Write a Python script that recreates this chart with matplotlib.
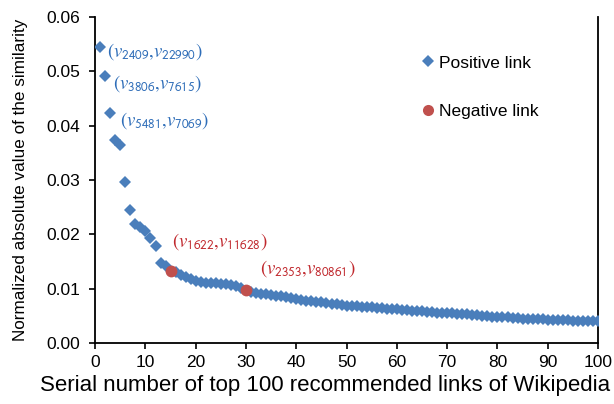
import matplotlib
matplotlib.use("Agg")
import matplotlib.pyplot as plt
from matplotlib.lines import Line2D

plt.rcParams['font.family'] = ['Liberation Sans', 'DejaVu Sans']
plt.rcParams['mathtext.fontset'] = 'stix'

# normalized absolute similarity of the top 100 recommended links
ranks = list(range(1, 101))
similarity = [
    0.0544, 0.0491, 0.0423, 0.0373, 0.0365, 0.0296, 0.0245, 0.0219, 0.0213, 0.0207,
    0.0193, 0.0179, 0.0147, 0.0141, 0.0133, 0.0130, 0.0126, 0.0121, 0.0117, 0.0114,
    0.0112, 0.0111, 0.0110, 0.0110, 0.0109, 0.0108, 0.0106, 0.0104, 0.0101, 0.0097,
    0.0094, 0.0092, 0.0091, 0.0090, 0.0088, 0.0087, 0.0086, 0.0084, 0.0083, 0.0081,
    0.0080, 0.0078, 0.0077, 0.0076, 0.0075, 0.0073, 0.0072, 0.0071, 0.0070, 0.0069,
    0.0069, 0.0068, 0.0067, 0.0067, 0.0066, 0.0065, 0.0064, 0.0063, 0.0062, 0.0062,
    0.0061, 0.0060, 0.0059, 0.0058, 0.0058, 0.0057, 0.0057, 0.0056, 0.0056, 0.0055,
    0.0055, 0.0054, 0.0054, 0.0053, 0.0052, 0.0051, 0.0050, 0.0049, 0.0048, 0.0048,
    0.0047, 0.0047, 0.0046, 0.0046, 0.0045, 0.0045, 0.0044, 0.0044, 0.0044, 0.0043,
    0.0043, 0.0042, 0.0042, 0.0042, 0.0041, 0.0041, 0.0041, 0.0040, 0.0040, 0.0040,
]
negative_ranks = [15, 30]

# labelled links: (text, x, y) of the text anchor
pos_labels = [
    (r'$(v_{\mathsf{2409}}{,}v_{\mathsf{22990}})$', 2.3, 0.0537),
    (r'$(v_{\mathsf{3806}}{,}v_{\mathsf{7615}})$', 3.5, 0.0477),
    (r'$(v_{\mathsf{5481}}{,}v_{\mathsf{7069}})$', 4.9, 0.0409),
]
neg_labels = [
    (r'$(v_{\mathsf{1622}}{,}v_{\mathsf{11628}})$', 15.2, 0.0187),
    (r'$(v_{\mathsf{2353}}{,}v_{\mathsf{80861}})$', 32.7, 0.0137),
]

BLUE = '#4A7EBB'
RED = '#C0504D'
BLUE_TXT = '#2E6DB8'
RED_TXT = '#C0282D'

fig = plt.figure(figsize=(6.14, 4.04), dpi=100)
ax = fig.add_axes([0.155, 0.151, 0.819, 0.807])

px = [r for r in ranks if r not in negative_ranks]
py = [similarity[r - 1] for r in px]
nx = negative_ranks
ny = [similarity[r - 1] for r in nx]

ax.plot(px, py, 'D', color=BLUE, markersize=6.2, markeredgewidth=0, zorder=3)
ax.plot(nx, ny, 'o', color=RED, markersize=8.5, markeredgewidth=0, zorder=4)

for txt, x, y in pos_labels:
    ax.text(x, y, txt, color=BLUE_TXT, fontsize=13.5, ha='left', va='center')
for txt, x, y in neg_labels:
    ax.text(x, y, txt, color=RED_TXT, fontsize=13.5, ha='left', va='center')

ax.set_xlim(0, 100)
ax.set_ylim(0, 0.06)
ax.set_xticks(range(0, 101, 10))
ax.set_yticks([0, 0.01, 0.02, 0.03, 0.04, 0.05, 0.06])
ax.set_yticklabels(['0.00', '0.01', '0.02', '0.03', '0.04', '0.05', '0.06'])
ax.tick_params(labelsize=12.5, direction='out', length=4, width=1.2, colors='black')
ax.tick_params(axis='y', pad=7)
ax.tick_params(axis='x', pad=5)
for s in ['left', 'bottom', 'right']:
    ax.spines[s].set_linewidth(1.3)
ax.spines['top'].set_visible(False)

ax.set_xlabel('Serial number of top 100 recommended links of Wikipedia', fontsize=16, va='center')
ax.set_ylabel('Normalized absolute value of the similarity', fontsize=12.3, va='center')
ax.xaxis.set_label_coords(0.457, -0.13)
ax.yaxis.set_label_coords(-0.149, 0.5)

handles = [
    Line2D([], [], marker='D', linestyle='', color=BLUE, markersize=6, markeredgewidth=0),
    Line2D([], [], marker='o', linestyle='', color=RED, markersize=8, markeredgewidth=0),
]
ax.legend(handles, ['Positive link', 'Negative link'], loc='upper left',
          bbox_to_anchor=(0.61, 0.93), frameon=False, fontsize=12.5,
          labelspacing=1.9, handletextpad=0.05, handlelength=1.2)

fig.savefig('out.png', dpi=100)
